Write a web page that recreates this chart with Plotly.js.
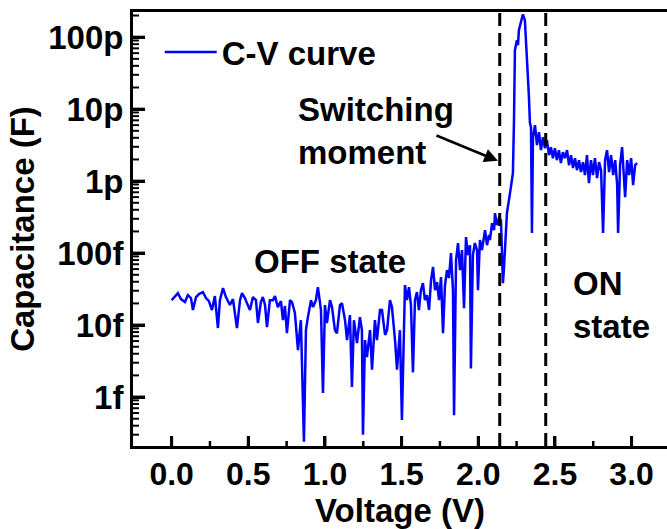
<!DOCTYPE html>
<html>
<head>
<meta charset="utf-8">
<script src="https://cdn.plot.ly/plotly-3.0.1.min.js"></script>
<style>
html,body{margin:0;padding:0;background:#fff;overflow:hidden;}
#chart{width:667px;height:529px;}
</style>
</head>
<body>
<div id="chart"></div>
<script>
// Voltage sweep (V)
const voltage = [
 0.000,0.022,0.041,0.061,0.087,0.106,0.126,0.139,0.159,0.178,0.204,0.224,0.243,0.263,0.282,0.302,0.315,0.335,0.354,0.380,
 0.400,0.426,0.446,0.459,0.478,0.491,0.511,0.530,0.550,0.563,0.582,0.595,0.609,0.622,0.641,0.661,0.674,0.693,0.713,0.726,
 0.739,0.752,0.772,0.785,0.804,0.824,0.843,0.863,0.876,0.889,0.909,0.922,0.941,0.954,0.974,0.987,1.000,1.013,1.033,1.046,
 1.065,1.078,1.098,1.111,1.131,1.144,1.163,1.176,1.189,1.209,1.228,1.241,1.248,1.261,1.274,1.294,1.307,1.326,1.339,1.359,
 1.372,1.392,1.405,1.424,1.437,1.457,1.470,1.489,1.502,1.522,
 1.535,1.548,1.561,1.574,1.587,1.600,1.613,1.626,1.639,1.652,1.665,1.679,1.692,1.705,1.718,1.731,1.744,1.757,1.770,1.783,
 1.796,1.809,1.822,1.835,1.842,1.855,1.868,1.881,1.894,1.907,1.920,1.933,1.946,1.952,1.965,1.978,1.992,1.998,2.011,2.024,
 2.044,2.057,2.070,2.076,2.090,2.103,2.109,2.122,2.135,2.148,2.161,2.168,2.181,2.187,
 2.207,2.226,2.233,2.239,2.252,2.259,2.265,2.278,2.291,2.304,2.310,2.317,2.330,2.337,2.344,2.350,2.357,
 2.370,2.383,2.396,2.409,2.422,2.435,2.448,2.461,2.474,2.487,2.500,2.513,2.526,2.539,2.552,2.565,2.579,2.592,2.605,2.618,
 2.631,2.644,2.657,2.670,2.683,2.696,2.709,2.722,2.735,2.748,2.761,2.775,2.788,2.801,2.814,2.827,2.840,2.853,2.866,2.880,
 2.893,2.906,2.912,2.925,2.938,2.951,2.958,2.971,2.984,2.997,3.010,3.023,3.036
];
// Capacitance (fF)
const capacitance_fF = [
 22.2,25.3,27.8,23.0,20.9,26.1,23.7,16.2,24.5,27.0,28.7,23.7,21.5,16.2,25.3,9.1,22.2,32.7,24.5,19.0,
 23.0,9.1,22.2,27.8,23.7,20.2,16.2,24.5,22.2,10.7,20.9,24.5,19.0,9.4,22.2,22.2,25.3,17.8,21.5,11.7,
 18.4,7.7,22.2,20.9,14.7,4.5,11.7,0.24,8.5,12.9,22.2,17.8,22.2,33.7,16.2,1.14,19.0,10.7,22.2,17.8,
 8.5,7.7,19.0,20.2,11.7,6.2,13.8,1.38,11.7,5.6,12.9,8.5,0.30,6.2,3.6,8.5,2.4,11.7,6.2,16.2,
 16.2,7.3,8.5,22.2,17.8,6.2,2.4,8.5,0.48,36,
 22.2,33.7,19.0,2.2,22.2,28.7,16.2,30.6,38.3,22.2,26.1,16.2,42.2,64,30.6,39.5,22.2,46.4,7.7,36,
 58,45,100,30.6,0.56,80,138,58,110,17.2,167,94,129,2.5,94,138,110,30.6,152,110,
 209,129,178,152,261,209,359,245,306,287,38.3,64,245,359,
 681,1292,7030,65900,90800,77400,125000,161500,208000,172000,106600,56200,15630,6390,5620,190,4085,
 5995,3160,4797,2697,4085,2871,3710,2296,2965,2085,2871,1957,2697,1778,2530,2085,2697,1668,2296,1516,
 2085,1422,1957,1334,1836,1212,2296,938,1957,1212,2085,1101,1836,1422,190,1957,2697,1334,2296,1212,
 1957,880,190,1668,2965,1101,600,1957,1212,2085,880,1668,1778
];
// Switching window boundaries (V)
const switchingBounds = [2.14, 2.44];
// Tick positions
const voltageTicks = [0, 0.5, 1.0, 1.5, 2.0, 2.5, 3.0];
const capacitanceDecades = [1e-16, 1e-15, 1e-14, 1e-13, 1e-12, 1e-11, 1e-10];
const seriesName = 'C-V curve';

const FONT = 'Liberation Sans, Arial, sans-serif';
const capacitance = capacitance_fF.map(v => v * 1e-15);
const X_RANGE = [-0.252, 3.231];
const Y_RANGE = [-15.68, -9.65];
const yMin = Math.pow(10, Y_RANGE[0]), yMax = Math.pow(10, Y_RANGE[1]);

const trace = {
  x: voltage, y: capacitance, type: 'scatter', mode: 'lines', name: seriesName,
  line: {color: 'rgb(0,0,255)', width: 2.5}
};

// dashed switching boundaries
const shapes = switchingBounds.map(v => ({
  type: 'line', xref: 'x', yref: 'paper', x0: v, x1: v, y0: 0, y1: 1,
  line: {color: 'black', width: 3, dash: '13px,7px'}
}));

// inside tick marks, placed through the axes' own scales
function xTick(v, len, w) {
  return {type: 'line', layer: 'above', xref: 'x', x0: v, x1: v,
          yref: 'paper', ysizemode: 'pixel', yanchor: 0, y0: 0, y1: len,
          line: {color: 'black', width: w}};
}
function yTick(v, len, w) {
  return {type: 'line', layer: 'above', yref: 'y', y0: v, y1: v,
          xref: 'paper', xsizemode: 'pixel', xanchor: 0, x0: 0, x1: len,
          line: {color: 'black', width: w}};
}
voltageTicks.forEach(v => shapes.push(xTick(v, 10, 3)));
for (let i = 0; i < voltageTicks.length - 1; i++) {
  shapes.push(xTick((voltageTicks[i] + voltageTicks[i + 1]) / 2, 5, 2.5));
}
capacitanceDecades.forEach(d => {
  if (d >= yMin && d <= yMax) shapes.push(yTick(d, 12, 3));
  for (let m = 2; m <= 9; m++) {
    const v = m * d;
    if (v >= yMin && v <= yMax) shapes.push(yTick(v, 6, 2));
  }
});

const layout = {
  width: 667, height: 529,
  margin: {l: 133, r: 0, t: 12, b: 83},
  paper_bgcolor: 'white', plot_bgcolor: 'white',
  font: {family: FONT, size: 33, color: 'black', weight: 'bold'},
  showlegend: true,
  legend: {x: 0.05, y: 0.908, xanchor: 'left', yanchor: 'middle', bgcolor: 'rgba(0,0,0,0)',
           itemwidth: 52, font: {family: FONT, size: 33, weight: 'bold'}},
  xaxis: {
    range: X_RANGE, tick0: 0, dtick: 0.5, tickformat: '.1f',
    ticks: 'inside', ticklen: 10, tickwidth: 3, tickcolor: '#000000',
    showline: true, linewidth: 3, linecolor: 'black', mirror: true,
    showgrid: false, zeroline: false, ticklabelstandoff: -2,
    tickfont: {family: FONT, size: 32, weight: 'bold'},
    title: {text: 'Voltage (V)', font: {family: FONT, size: 33, weight: 'bold'}, standoff: 7}
  },
  yaxis: {
    type: 'log', range: Y_RANGE, dtick: 1, exponentformat: 'SI',
    ticks: 'inside', ticklen: 12, tickwidth: 3, tickcolor: '#000000',
    showline: true, linewidth: 3, linecolor: 'black', mirror: false,
    showgrid: false, zeroline: false,
    tickfont: {family: FONT, size: 33, weight: 'bold'},
    title: {text: 'Capacitance (F)', font: {family: FONT, size: 33, weight: 'bold'}, standoff: 4}
  },
  shapes: shapes,
  annotations: [
    {xref: 'paper', yref: 'paper', x: 0.305, y: 0.726, xanchor: 'left', yanchor: 'middle', align: 'left',
     text: 'Switching<br>moment', showarrow: false, font: {family: FONT, size: 33, weight: 'bold'}},
    {xref: 'paper', yref: 'paper', x: 0.6835, y: 0.657, text: '', showarrow: true,
     ax: -63, ay: -26, arrowhead: 2, arrowsize: 1.1, arrowwidth: 2.5, arrowcolor: 'black', standoff: 0},
    {xref: 'paper', yref: 'paper', x: 0.369, y: 0.424, xanchor: 'center', yanchor: 'middle',
     text: 'OFF state', showarrow: false, font: {family: FONT, size: 33, weight: 'bold'}},
    {xref: 'paper', yref: 'paper', x: 0.820, y: 0.325, xanchor: 'left', yanchor: 'middle', align: 'left',
     text: 'ON<br>state', showarrow: false, font: {family: FONT, size: 33, weight: 'bold'}}
  ]
};

Plotly.newPlot('chart', [trace], layout, {staticPlot: true, displayModeBar: false});
</script>
</body>
</html>
